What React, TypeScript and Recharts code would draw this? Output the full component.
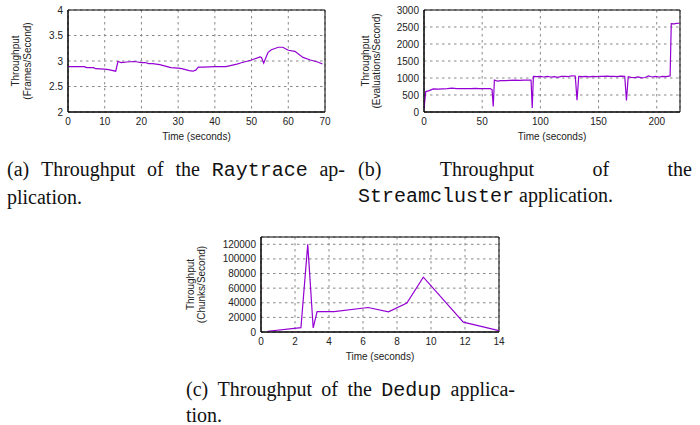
import React from 'react';
import { LineChart, Line, XAxis, YAxis, CartesianGrid, ReferenceArea } from 'recharts';

// (a) Raytrace: time (s) vs frames/second
const raytraceTime = [
  0, 4.5, 5, 7, 7.5, 10, 11, 13, 13.6, 14.5, 16, 18, 19, 20, 21, 22, 23, 25, 27, 28, 30, 31, 33, 34,
  34.8, 35.5, 37, 40, 43, 46, 47, 50, 52.3, 52.7, 53.3, 54.5, 55.4, 57.3, 58.5, 60, 61.8, 64, 66, 68, 69.3,
];
const raytraceFps = [
  2.89, 2.89, 2.87, 2.87, 2.85, 2.84, 2.83, 2.8, 2.99, 2.97, 2.98, 2.99, 2.98, 2.97, 2.97, 2.95, 2.95, 2.93,
  2.89, 2.87, 2.86, 2.85, 2.81, 2.8, 2.82, 2.88, 2.88, 2.89, 2.89, 2.94, 2.96, 3.02, 3.08, 3.07, 2.96, 3.17,
  3.22, 3.27, 3.27, 3.21, 3.19, 3.07, 3.02, 2.98, 2.94,
];

// (b) Streamcluster: time (s) vs evaluations/second
const streamTime = [
  0, 1.5, 4, 6, 8, 12, 16, 20, 24, 28, 32, 36, 40, 44, 48, 52, 57, 58.5, 59.5, 60.5, 63, 66, 70, 74, 78, 82,
  86, 90, 92, 93, 94, 97, 100, 103, 106, 109, 112, 115, 118, 121, 124, 127, 130, 131.5, 133, 136, 139, 142,
  145, 148, 151, 154, 157, 160, 163, 166, 169, 172.5, 174, 175.5, 178, 181, 184, 187, 190, 193, 196, 199,
  202, 205, 208, 211.5, 212.5, 215, 217, 219.5,
];
const streamEval = [
  100, 600, 620, 650, 680, 675, 680, 685, 700, 690, 685, 690, 690, 695, 685, 690, 690, 650, 160, 940, 910,
  920, 925, 930, 935, 930, 940, 935, 940, 120, 1050, 1040, 1045, 1030, 1050, 1030, 1040, 1020, 1045, 1050,
  1040, 1065, 1060, 350, 1050, 1040, 1045, 1035, 1050, 1040, 1050, 1045, 1055, 1045, 1050, 1040, 1055, 1050,
  340, 1040, 1020, 1010, 1030, 1005, 1015, 1060, 1030, 1050, 1030, 1045, 1040, 1060, 2600, 2590, 2605, 2610,
];

// (c) Dedup: time (s) vs chunks/second
const dedupTime = [0.4, 2.35, 2.75, 3.07, 3.3, 4.3, 6.3, 7.5, 8.58, 9.55, 11.9, 14];
const dedupChunks = [1000, 6000, 120000, 5500, 28000, 28000, 33500, 27500, 39500, 75000, 13500, 1800];

const raytraceXTicks = [0, 10, 20, 30, 40, 50, 60, 70];
const raytraceYTicks = [2, 2.5, 3, 3.5, 4];
const streamXTicks = [0, 50, 100, 150, 200];
const streamYTicks = [0, 500, 1000, 1500, 2000, 2500, 3000];
const dedupXTicks = [0, 2, 4, 6, 8, 10, 12, 14];
const dedupYTicks = [0, 20000, 40000, 60000, 80000, 100000, 120000];

const toRows = (xs: number[], ys: number[]) => xs.map((t, i) => ({ t, v: ys[i] }));

const SANS = '"Liberation Sans", Arial, Helvetica, sans-serif';
const SERIF = '"Liberation Serif", "Times New Roman", serif';
const MONO = '"Liberation Mono", "Courier New", monospace';
const PURPLE = '#9400d3';

const YTitle = (props: any) => {
  const { viewBox, lines, xs } = props;
  const cy = viewBox.y + viewBox.height / 2;
  return (
    <g>
      {lines.map((s: string, i: number) => {
        const x = viewBox.x + xs[i];
        return (
          <text key={i} x={x} y={cy} transform={`rotate(-90 ${x} ${cy})`} textAnchor="middle"
            dominantBaseline="central" fontSize={10} fontFamily={SANS} fill="#222">
            {s}
          </text>
        );
      })}
    </g>
  );
};

const XTitle = (props: any) => {
  const { viewBox, dy } = props;
  return (
    <text x={viewBox.x + viewBox.width / 2} y={viewBox.y + dy} textAnchor="middle" dominantBaseline="central"
      fontSize={10} fontFamily={SANS} fill="#222">
      Time (seconds)
    </text>
  );
};

interface PanelProps {
  left: number;
  top: number;
  width: number;
  height: number;
  margin: { top: number; right: number; bottom: number; left: number };
  yWidth: number;
  xHeight: number;
  data: { t: number; v: number }[];
  xDomain: [number, number];
  xTicks: number[];
  yDomain: [number, number];
  yTicks: number[];
  yLines: string[];
  yLabelXs: number[];
}

const Panel = (p: PanelProps) => (
  <div style={{ position: 'absolute', left: p.left, top: p.top }}>
    <LineChart width={p.width} height={p.height} data={p.data} margin={p.margin}>
      <CartesianGrid stroke="#888" strokeDasharray="2.5 3.5" />
      <XAxis dataKey="t" type="number" domain={p.xDomain} ticks={p.xTicks} allowDataOverflow
        height={p.xHeight} tickLine={false} tickSize={4} tickMargin={2} axisLine={{ stroke: '#000' }}
        tick={{ fontSize: 10, fontFamily: SANS, fill: '#222' }} interval={0}
        label={<XTitle dy={24} />} />
      <YAxis type="number" domain={p.yDomain} ticks={p.yTicks} allowDataOverflow width={p.yWidth}
        tickLine={false} tickSize={3} tickMargin={2} axisLine={{ stroke: '#000' }}
        tick={{ fontSize: 10, fontFamily: SANS, fill: '#222' }} interval={0}
        label={<YTitle lines={p.yLines} xs={p.yLabelXs} />} />
      <Line type="linear" dataKey="v" stroke={PURPLE} strokeWidth={1.2} dot={false} isAnimationActive={false} />
      <ReferenceArea x1={p.xDomain[0]} x2={p.xDomain[1]} y1={p.yDomain[0]} y2={p.yDomain[1]}
        fill="none" stroke="#000" strokeWidth={1} ifOverflow="visible" />
    </LineChart>
  </div>
);

const capStyle: React.CSSProperties = {
  position: 'absolute',
  fontFamily: SERIF,
  fontSize: 20,
  lineHeight: '26px',
  color: '#111',
};

const Justified = ({ words }: { words: React.ReactNode[] }) => (
  <div style={{ display: 'flex', justifyContent: 'space-between', whiteSpace: 'nowrap' }}>
    {words.map((w, i) => <span key={i}>{w}</span>)}
  </div>
);

const Tt = ({ children }: { children: React.ReactNode }) => (
  <span style={{ fontFamily: MONO }}>{children}</span>
);

export default function App() {
  return (
    <div style={{ position: 'absolute', left: 0, top: 0, width: 700, height: 425, background: '#fff', overflow: 'hidden' }}>
      <Panel left={0} top={0} width={340} height={150}
        margin={{ top: 10, right: 15, bottom: 12, left: 0 }} yWidth={68} xHeight={26}
        data={toRows(raytraceTime, raytraceFps)} xDomain={[0, 70]} xTicks={raytraceXTicks}
        yDomain={[2, 4]} yTicks={raytraceYTicks} yLines={['Throughput', '(Frames/Second)']} yLabelXs={[15, 27]} />
      <Panel left={350} top={0} width={350} height={150}
        margin={{ top: 10, right: 20, bottom: 12, left: 0 }} yWidth={74} xHeight={26}
        data={toRows(streamTime, streamEval)} xDomain={[0, 220]} xTicks={streamXTicks}
        yDomain={[0, 3000]} yTicks={streamYTicks} yLines={['Throughput', '(Evaluations/Second)']} yLabelXs={[15, 26]} />
      <Panel left={180} top={225} width={340} height={150}
        margin={{ top: 12, right: 21, bottom: 17, left: 0 }} yWidth={81} xHeight={26}
        data={toRows(dedupTime, dedupChunks)} xDomain={[0, 14]} xTicks={dedupXTicks}
        yDomain={[0, 130000]} yTicks={dedupYTicks} yLines={['Throughput', '(Chunks/Second)']} yLabelXs={[10, 21]} />

      <div style={{ ...capStyle, left: 7, top: 156, width: 338 }}>
        <Justified words={['(a)', 'Throughput', 'of', 'the', <Tt>Raytrace</Tt>, 'ap-']} />
        <div>plication.</div>
      </div>
      <div style={{ ...capStyle, left: 358, top: 156, width: 334 }}>
        <Justified words={['(b)', 'Throughput', 'of', 'the']} />
        <div><Tt>Streamcluster</Tt> application.</div>
      </div>
      <div style={{ ...capStyle, left: 186, top: 377, width: 329, lineHeight: '24px' }}>
        <Justified words={['(c)', 'Throughput', 'of', 'the', <Tt>Dedup</Tt>, 'applica-']} />
        <div>tion.</div>
      </div>
    </div>
  );
}
